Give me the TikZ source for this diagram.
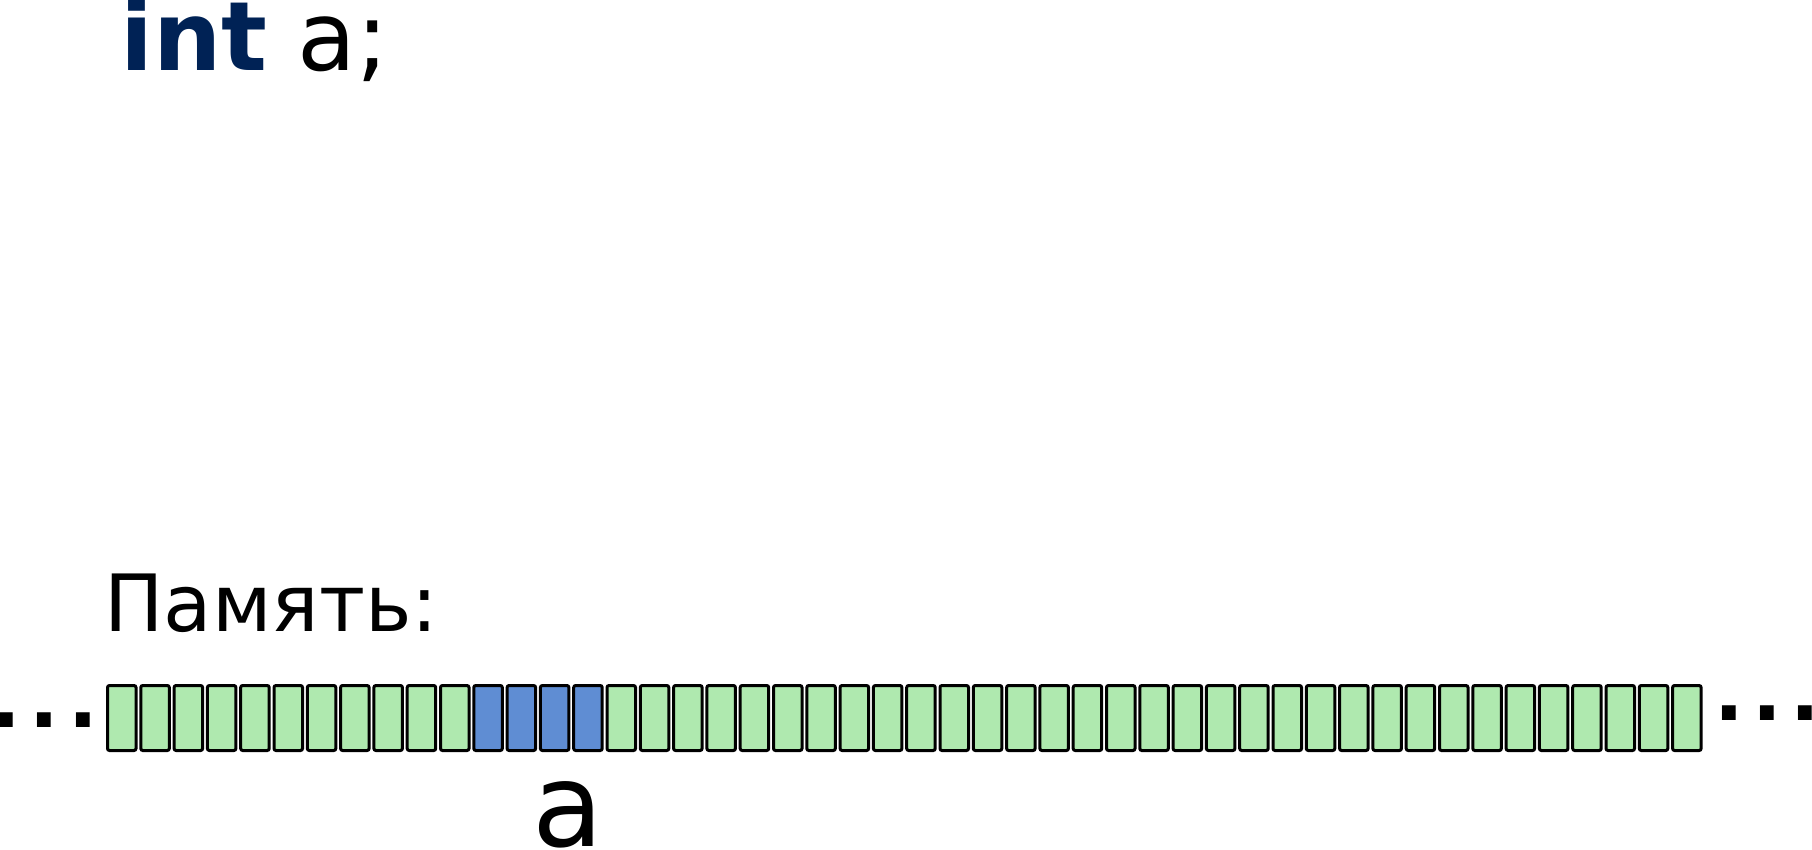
\documentclass[tikz,border=0pt]{standalone}
\usepackage{fontspec}
\setmainfont{DejaVu Sans}
\definecolor{navy}{HTML}{002255}
\definecolor{cellgreen}{HTML}{AFE9AF}
\definecolor{cellblue}{HTML}{5F8DD3}
\tikzset{
  cellbox/.style={draw=black, line width=3pt, rounded corners=2pt, minimum width=28.5pt, minimum height=65pt, inner sep=0pt, outer sep=0pt, fill=cellgreen},
  varcell/.style={fill=cellblue},
  dotmark/.style={inner sep=0pt, anchor=base, font=\fontsize{78}{78}\selectfont\bfseries},
  txt/.style={inner sep=0pt, anchor=base west}
}
\begin{document}
\begin{tikzpicture}[x=1pt,y=-1pt]
\useasboundingbox (0,0) rectangle (1812,849);
\node[txt, font=\fontsize{96}{96}\selectfont] (decl) at (120,70.7) {\textcolor{navy}{\bfseries int} a;};
\node[txt, font=\fontsize{79}{79}\selectfont] (mem) at (104,631.7) {Память:};
\foreach \i in {0,...,47}{
  \pgfmathsetmacro{\cx}{106+33.3*\i+15.75}
  \ifnum\i>10 \ifnum\i<15
    \node[cellbox, varcell] (cell\i) at (\cx,718) {};
  \else
    \node[cellbox] (cell\i) at (\cx,718) {};
  \fi\else
    \node[cellbox] (cell\i) at (\cx,718) {};
  \fi
}
\node[dotmark] (l1) at (6,727) {.};
\node[dotmark] (l2) at (44.5,727) {.};
\node[dotmark] (l3) at (83,727) {.};
\node[dotmark] (r1) at (1729.5,720) {.};
\node[dotmark] (r2) at (1767.5,720) {.};
\node[dotmark] (r3) at (1805.5,720) {.};
\node[inner sep=0pt, anchor=base, font=\fontsize{116}{116}\selectfont] (alabel) at (568,846) {a};
\end{tikzpicture}
\end{document}
